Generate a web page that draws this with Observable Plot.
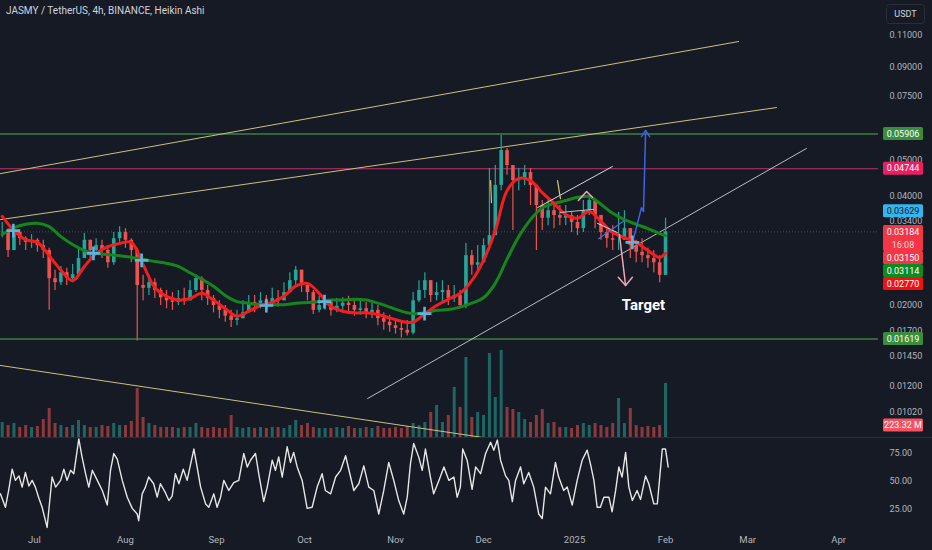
<!DOCTYPE html>
<html><head><meta charset="utf-8">
<script src="https://cdn.jsdelivr.net/npm/d3@7"></script>
<script src="https://cdn.jsdelivr.net/npm/@observablehq/plot@0.6"></script>
<style>
body{margin:0;background:#161a25;}
#chart{position:relative;width:932px;height:550px;background:#161a25;overflow:hidden;font-family:Roboto,"Noto Sans",sans-serif;}
#chart svg{position:absolute;left:0;}
#title{position:absolute;left:6px;top:5px;font-size:10px;color:#d1d4dc;white-space:nowrap;}
#sep{position:absolute;left:0;top:437px;width:932px;height:1px;background:#2a2e39;}
</style></head><body><div id="chart"><div id="sep"></div></div>
<script>
// ---------- DATA ----------
const titleText = "JASMY / TetherUS, 4h, BINANCE, Heikin Ashi";
const candleStart = "2024-06-20"; // buckets every 2 days
const close = [0.0321,0.0283,0.0317,0.0305,0.0298,0.0302,0.0292,0.0283,0.0237,0.0231,
 0.0246,0.0237,0.0243,0.0269,0.0302,0.0283,0.0292,0.0283,0.0262,0.0305,
 0.0317,0.0302,0.0283,0.0227,0.0223,0.0231,0.0220,0.0210,0.0206,0.0204,
 0.0209,0.0206,0.0220,0.0237,0.0220,0.0209,0.0200,0.0194,0.0187,0.0182,
 0.0184,0.0191,0.0204,0.0200,0.0206,0.0200,0.0209,0.0206,0.0217,0.0234,
 0.0250,0.0227,0.0217,0.0194,0.0200,0.0204,0.0194,0.0199,0.0203,0.0200,
 0.0194,0.0196,0.0191,0.0194,0.0184,0.0180,0.0176,0.0173,0.0171,0.0168,
 0.0206,0.0220,0.0234,0.0213,0.0217,0.0220,0.0209,0.0213,0.0200,0.0274,
 0.0258,0.0262,0.0292,0.0311,0.0427,0.0532,0.0484,0.0440,0.0446,0.0463,
 0.0427,0.0376,0.0347,0.0364,0.0353,0.0347,0.0353,0.0338,0.0325,0.0364,
 0.0388,0.0353,0.0317,0.0305,0.0302,0.0302,0.0325,0.0292,0.0280,0.0274,
 0.0269,0.0262,0.0242,0.03184];
const high = [0.0338,0.0325,0.0329,0.0317,0.0309,0.0313,0.0305,0.0302,0.0287,0.0250,
 0.0256,0.0253,0.0259,0.0290,0.0315,0.0302,0.0305,0.0302,0.0292,0.0317,
 0.0329,0.0325,0.0305,0.0287,0.0242,0.0242,0.0237,0.0223,0.0220,0.0217,
 0.0220,0.0223,0.0234,0.0243,0.0240,0.0227,0.0213,0.0206,0.0200,0.0194,
 0.0194,0.0206,0.0213,0.0213,0.0217,0.0213,0.0223,0.0220,0.0231,0.0246,
 0.0256,0.0250,0.0231,0.0220,0.0212,0.0213,0.0206,0.0209,0.0210,0.0212,
 0.0206,0.0206,0.0204,0.0203,0.0200,0.0191,0.0188,0.0184,0.0180,0.0182,
 0.0217,0.0234,0.0246,0.0234,0.0231,0.0234,0.0227,0.0227,0.0220,0.0296,
 0.0283,0.0292,0.0305,0.0475,0.0484,0.0585,0.0539,0.0484,0.0475,0.0484,
 0.0475,0.0401,0.0388,0.0393,0.0376,0.0376,0.0376,0.0360,0.0353,0.0388,
 0.0401,0.0388,0.0338,0.0325,0.0331,0.0360,0.0364,0.0317,0.0302,0.0305,
 0.0287,0.0283,0.0274,0.0347];
const low = [0.0307,0.0271,0.0283,0.0292,0.0283,0.0287,0.0280,0.0269,0.0194,0.0220,
 0.0227,0.0227,0.0231,0.0240,0.0283,0.0269,0.0280,0.0269,0.0253,0.0258,
 0.0298,0.0287,0.0262,0.0160,0.0206,0.0213,0.0209,0.0200,0.0196,0.0194,
 0.0200,0.0200,0.0206,0.0217,0.0206,0.0200,0.0191,0.0184,0.0180,0.0174,
 0.0176,0.0184,0.0194,0.0191,0.0196,0.0191,0.0200,0.0198,0.0206,0.0217,
 0.0227,0.0217,0.0206,0.0189,0.0191,0.0194,0.0187,0.0191,0.0194,0.0191,
 0.0187,0.0188,0.0184,0.0184,0.0176,0.0171,0.0169,0.0167,0.0163,0.0165,
 0.0166,0.0204,0.0209,0.0204,0.0206,0.0204,0.0200,0.0204,0.0196,0.0196,
 0.0242,0.0246,0.0274,0.0283,0.0311,0.0413,0.0455,0.0321,0.0413,0.0427,
 0.0376,0.0283,0.0321,0.0331,0.0325,0.0331,0.0331,0.0317,0.0311,0.0317,
 0.0353,0.0325,0.0302,0.0287,0.0283,0.0283,0.0302,0.0269,0.0262,0.0262,
 0.0253,0.0246,0.0231,0.0242];
const volume = [279,223,260,186,223,186,205,335,539,260,
 223,186,223,316,223,186,186,223,205,260,
 223,223,298,911,372,260,223,186,186,186,
 167,186,186,260,186,167,186,167,167,409,
 186,167,186,167,186,167,186,186,167,223,
 316,223,260,186,167,167,167,186,167,205,
 167,167,186,167,205,167,167,186,167,205,
 260,223,279,465,595,279,409,930,558,1488,
 372,465,409,1562,744,1618,558,521,465,335,
 279,409,521,260,279,186,186,167,223,260,
 223,260,223,186,260,725,260,539,223,186,
 205,186,223,1004]; // millions
const maStart = "2024-06-20"; // every 4 days, last point 2025-02-01
const redMA = [0.0351,0.0321,0.0303,0.0298,0.0274,0.0250,0.0234,0.0256,0.0278,0.0290,
 0.0296,0.0298,0.0259,0.0224,0.0212,0.0207,0.0209,0.0216,0.0207,0.0196,
 0.0187,0.0193,0.0200,0.0204,0.0212,0.0226,0.0230,0.0216,0.0199,0.0193,
 0.0191,0.0191,0.0189,0.0185,0.0181,0.0180,0.0190,0.0200,0.0208,0.0216,
 0.0234,0.0266,0.0321,0.0413,0.0446,0.0440,0.0408,0.0381,0.0355,0.0347,
 0.0362,0.0340,0.0317,0.0307,0.0298,0.0283,0.0271,0.0278];
const greenMA = [0.0313,0.0327,0.0334,0.0336,0.0329,0.0309,0.0294,0.0283,0.0278,0.0276,
 0.0274,0.0271,0.0268,0.0264,0.0261,0.0256,0.0246,0.0236,0.0226,0.0213,
 0.0205,0.0203,0.0201,0.0201,0.0201,0.0203,0.0204,0.0205,0.0207,0.0207,
 0.0208,0.0207,0.0203,0.0198,0.0193,0.0190,0.0191,0.0194,0.0195,0.0198,
 0.0203,0.0210,0.0230,0.0268,0.0309,0.0344,0.0371,0.0381,0.0388,0.0396,
 0.0398,0.0379,0.0358,0.0344,0.0334,0.0325,0.0315,0.0311];
// oscillator: day offsets from 2024-07-01 and values
const rsiDay = [-11.6,-9.9,-8.8,-7.6,-6.5,-5.3,-4.2,-3.1,-1.9,-0.8,0.3,1.5,2.6,4.3,6.0,7.2,8.9,10.0,11.1,12.3,13.4,15.1,16.2,17.4,18.5,19.7,21.4,23.1,24.8,25.9,27.0,28.2,29.9,31.6,33.3,35.0,35.5,36.7,37.8,38.9,40.6,41.8,42.9,44.6,45.8,46.9,48.0,49.2,50.7,52.0,54.3,55.4,56.6,58.3,59.4,61.1,62.2,63.4,64.5,66.2,67.9,69.6,71.3,72.5,73.6,75.3,76.4,78.1,79.3,81.0,82.1,83.2,84.4,86.1,87.2,88.3,89.5,91.2,92.9,94.6,96.3,98.0,99.1,100.9,102.6,104.3,106.0,107.7,108.8,110.5,112.2,113.9,115.6,117.3,119.0,120.7,122.4,124.1,125.8,127.0,128.1,129.2,130.9,132.1,133.2,134.9,136.0,137.8,139.5,141.2,142.9,144.0,145.1,145.9,147.4,149.1,150.3,152.0,153.7,155.4,156.5,157.7,158.8,160.5,161.6,162.8,163.9,165.6,166.7,168.4,170.1,171.8,173.0,174.1,175.8,177.5,178.6,180.3,181.5,183.2,184.9,186.6,188.3,189.4,190.6,191.7,192.8,194.0,195.7,196.8,198.0,199.1,200.2,201.4,202.5,203.7,205.3,206.5,208.2,209.3,211.0,212.2,213.9,215.0,215.9];
const rsiVal = [39,27,42,61,51,55,45,58,46,51,45,35,27,9,54,45,51,61,51,60,57,88,72,57,45,60,51,42,29,60,75,70,51,36,26,21,15,39,45,54,48,36,48,40,33,37,57,48,61,51,79,63,45,30,27,39,27,36,51,42,49,51,75,63,69,75,57,32,45,69,60,72,54,81,67,76,63,51,26,27,45,57,42,39,54,60,73,54,42,48,64,45,42,21,42,67,51,33,21,36,66,84,72,60,79,54,39,51,63,51,54,36,45,79,69,43,63,57,75,85,78,87,69,55,51,32,51,63,48,58,45,21,17,45,39,67,54,42,45,29,51,69,78,66,51,27,27,36,36,23,42,63,54,76,45,33,42,34,55,48,30,30,79,79,63];
// horizontal levels
const levelGreen = [0.05906, 0.01619];
const levelPink = [0.04744];
const lastPrice = 0.03184;
// drawings: [dayOffset from 2024-07-01, price]
const khakiLine1 = [[-11.6, 0.0460], [239.9, 0.1059]];
const khakiLine2 = [[-11.6, 0.0344], [252.8, 0.0698]];
const khakiLine3 = [[-11.6, 0.0137], [153.0, 0.00869]];
const whiteLine1 = [[113.5, 0.01112], [263.0, 0.0539]];
const whiteLine2 = [[171.4, 0.0371], [196.9, 0.0481]];
const grayLine = [[179.2, 0.0360], [190.5, 0.0367]];
const whitePennant = [[191.8, 0.0336], [198.6, 0.0317]];
const bluePennant = [[192.2, 0.0305], [201.0, 0.0342]];
const pinkPeak = [[185.3, 0.0388], [188.1, 0.0411], [190.1, 0.0396]];
const pinkArrow = [[199.3, 0.0313], [201.4, 0.0227]];
const pinkHead = [[198.9, 0.0239], [201.4, 0.0227], [203.7, 0.0239]];
const bluePath = [[203.7, 0.0296], [206.8, 0.0371], [207.5, 0.0362], [208.2, 0.0593]];
const blueHead = [[206.8, 0.0581], [208.2, 0.0604], [209.6, 0.0581]];
const yellowMarks = [[[155.4, 0.0440], [155.7, 0.0383]], [[178.2, 0.0440], [179.2, 0.0393]]];
const crossDay = [-7.2, 20.1, 36.5, 79.0, 98.8, 132.9, 203.7];
const crossPrice = [0.0321, 0.0278, 0.0266, 0.0200, 0.0205, 0.0190, 0.0298];
const targetNote = {day: 207.5, price: 0.0200, text: "Target"};
// axis labels
const priceTicks = [0.11, 0.09, 0.075, 0.05, 0.04, 0.034, 0.02, 0.017, 0.0145, 0.012, 0.0102];
const rsiTicks = [25, 50, 75];
const monthTicks = ["2024-07-01","2024-08-01","2024-09-01","2024-10-01","2024-11-01","2024-12-01","2025-01-01","2025-02-01","2025-03-01","2025-04-01"];
const monthLabels = ["Jul","Aug","Sep","Oct","Nov","Dec","2025","Feb","Mar","Apr"];
const priceLabels = [0.05906, 0.04744, 0.03629, 0.03184, 0.03150, 0.03114, 0.02770, 0.01619];
const countdown = "16:08";
const lastVolume = 223.32;
const currency = "USDT";

// ---------- BUILD ----------
const DAY = 864e5;
const T0 = Date.UTC(2024, 6, 1);
const dd = d => new Date(T0 + d * DAY);
const C0 = +new Date(candleStart);
const M0 = +new Date(maStart);
const xDomain = [dd(-11.58), dd(287.56)];
const W = 932, MR = 54;
const TEAL = "#26a69a", RED = "#ef5350";

const candles = close.map((c, i) => {
  const open = i ? close[i - 1] : c;
  return {date: new Date(C0 + 2 * i * DAY), open, close: c,
    high: Math.max(high[i], open, c), low: Math.min(low[i], open, c),
    vol: volume[i], up: c >= open};
});
const maRows = redMA.map((r, k) => ({date: new Date(M0 + Math.min(4 * k, 226) * DAY), red: r, green: greenMA[k]}));
const rsi = rsiDay.map((d, i) => ({date: dd(d), v: rsiVal[i]}));
const pts = a => a.map(([d, p]) => ({date: dd(d), p}));
const drawLine = (a, stroke, sw = 1, extra = {}) =>
  Plot.line(pts(a), {x: "date", y: "p", stroke, strokeWidth: sw, clip: true, ...extra});
const crosses = crossDay.map((d, i) => ({date: dd(d), p: crossPrice[i]}));

const root = document.getElementById("chart");
const baseStyle = {background: "transparent", color: "#b2b5be", fontFamily: "Roboto, sans-serif", fontSize: "9px"};

// volume pane (overlay at bottom of price pane)
const volPlot = Plot.plot({
  width: W, height: 437, marginLeft: 0, marginRight: MR, marginTop: 0, marginBottom: 0,
  style: baseStyle,
  x: {type: "utc", domain: xDomain, axis: null},
  y: {domain: [0, 437 * 18.6], axis: null},
  marks: [
    Plot.ruleX(candles, {x: "date", y1: 0, y2: "vol", stroke: d => d.up ? TEAL : RED, strokeOpacity: 0.55, strokeWidth: 3})
  ]
});
volPlot.style.top = "0px";
root.appendChild(volPlot);

// main price pane
const main = Plot.plot({
  width: W, height: 437, marginLeft: 0, marginRight: MR, marginTop: 0, marginBottom: 0,
  style: baseStyle,
  x: {type: "utc", domain: xDomain, axis: null},
  y: {type: "log", domain: [0.008694, 0.1372]},
  marks: [
    Plot.ruleY([lastPrice], {stroke: "#8a8d96", strokeOpacity: 0.45, strokeDasharray: "1,2"}),
    Plot.ruleY(levelGreen, {stroke: "#4caf50", strokeWidth: 1.2}),
    Plot.ruleY(levelPink, {stroke: "#b8336a", strokeWidth: 1.1}),
    drawLine(khakiLine1, "#c9c27e"),
    drawLine(khakiLine2, "#c9c27e"),
    drawLine(khakiLine3, "#c9c27e"),
    drawLine(whiteLine1, "#d8d8d8", 1, {strokeOpacity: 0.85}),
    Plot.ruleX(candles, {x: "date", y1: "low", y2: "high", stroke: d => d.up ? TEAL : RED, strokeWidth: 1.2}),
    Plot.ruleX(candles, {x: "date", y1: "open", y2: "close", stroke: d => d.up ? TEAL : RED, strokeWidth: 3.6}),
    Plot.line(maRows, {x: "date", y: "green", stroke: "#14861c", strokeWidth: 3, curve: "catmull-rom"}),
    Plot.line(maRows, {x: "date", y: "red", stroke: "#f51d1d", strokeWidth: 3, curve: "catmull-rom"}),
    drawLine(whiteLine2, "#d8d8d8"),
    drawLine(grayLine, "#bfbfbf"),
    drawLine(whitePennant, "#d8d8d8"),
    drawLine(bluePennant, "#4a6ee0", 1.2),
    drawLine(pinkPeak, "#f4a3b8", 1.5),
    drawLine(pinkArrow, "#f4a3b8", 1.5),
    drawLine(pinkHead, "#f4a3b8", 1.5),
    drawLine(bluePath, "#3d63e6", 1.5),
    drawLine(blueHead, "#3d63e6", 1.5),
    ...yellowMarks.map(m => drawLine(m, "#d6c86b", 1.2)),
    Plot.dot(crosses, {x: "date", y: "p", symbol: "plus", r: 4.5, stroke: "#55b6e0", strokeWidth: 2.6}),
    Plot.text([targetNote], {x: d => dd(d.day), y: "price", text: "text", fill: "#ffffff", fontSize: 15, fontWeight: "bold"}),
    Plot.axisY({anchor: "right", ticks: priceTicks, tickFormat: d3.format(".5f"), tickSize: 0, tickPadding: 11, fill: "#b2b5be", fontSize: 9, label: null})
  ]
});
main.style.top = "0px";
root.appendChild(main);

// price label boxes, stacked like the platform does
const ys = main.scale("y");
const boxColors = ["#388e3c", "#e91e63", "#35b4ee", "#f23645", "#f23645", "#0d8a24", "#f50f0f", "#388e3c"];
const boxText = ["#fff", "#fff", "#131722", "#fff", "#fff", "#fff", "#fff", "#fff"];
const sm = d3.select(main);
let prevBottom = -Infinity;
priceLabels.forEach((v, i) => {
  const hasCountdown = v === lastPrice;
  const h = hasCountdown ? 26 : 13;
  const top = Math.max(ys.apply(v) - 6.5, prevBottom);
  prevBottom = top + h;
  sm.append("rect").attr("x", 883).attr("y", top).attr("width", 40).attr("height", h).attr("rx", 1.5).attr("fill", boxColors[i]);
  sm.append("text").attr("x", 903).attr("y", top + 6.5).attr("dy", "0.35em").attr("text-anchor", "middle")
    .attr("fill", boxText[i]).attr("font-size", 9).text(d3.format(".5f")(v));
  if (hasCountdown) sm.append("text").attr("x", 903).attr("y", top + 19.5).attr("dy", "0.35em").attr("text-anchor", "middle")
    .attr("fill", "#ffd9dc").attr("font-size", 9).text(countdown);
});
sm.append("rect").attr("x", 886.5).attr("y", 4.5).attr("width", 38).attr("height", 19).attr("rx", 3)
  .attr("fill", "#161a25").attr("stroke", "#2a2e39");
sm.append("text").attr("x", 905.5).attr("y", 14).attr("dy", "0.35em").attr("text-anchor", "middle")
  .attr("fill", "#d1d4dc").attr("font-size", 9).text(currency);

// volume label
const vs = volPlot.scale("y");
const vy = vs.apply(lastVolume);
const svol = d3.select(volPlot);
svol.append("rect").attr("x", 883).attr("y", vy - 6.5).attr("width", 40).attr("height", 13).attr("rx", 1.5).attr("fill", "#f7525f");
svol.append("text").attr("x", 903).attr("y", vy).attr("dy", "0.35em").attr("text-anchor", "middle").attr("fill", "#fff").attr("font-size", 9)
  .text(d3.format(".2f")(lastVolume) + " M");

// oscillator pane + time axis
const labelOf = new Map(monthTicks.map((s, i) => [+new Date(s), monthLabels[i]]));
const osc = Plot.plot({
  width: W, height: 113, marginLeft: 0, marginRight: MR, marginTop: 0, marginBottom: 20,
  style: baseStyle,
  x: {type: "utc", domain: xDomain},
  y: {domain: [6.25, 89.3]},
  marks: [
    Plot.line(rsi, {x: "date", y: "v", stroke: "#e6e6e6", strokeWidth: 1.4, clip: true}),
    Plot.axisY({anchor: "right", ticks: rsiTicks, tickFormat: d3.format(".2f"), tickSize: 0, tickPadding: 11, fill: "#b2b5be", fontSize: 9, label: null}),
    Plot.axisX({ticks: monthTicks.map(s => new Date(s)), tickFormat: d => labelOf.get(+d), tickSize: 0, tickPadding: 6, fill: "#b2b5be", fontSize: 9.5, label: null})
  ]
});
osc.style.top = "437px";
root.appendChild(osc);

const t = document.createElement("div");
t.id = "title"; t.textContent = titleText;
root.appendChild(t);
</script>
</body></html>
